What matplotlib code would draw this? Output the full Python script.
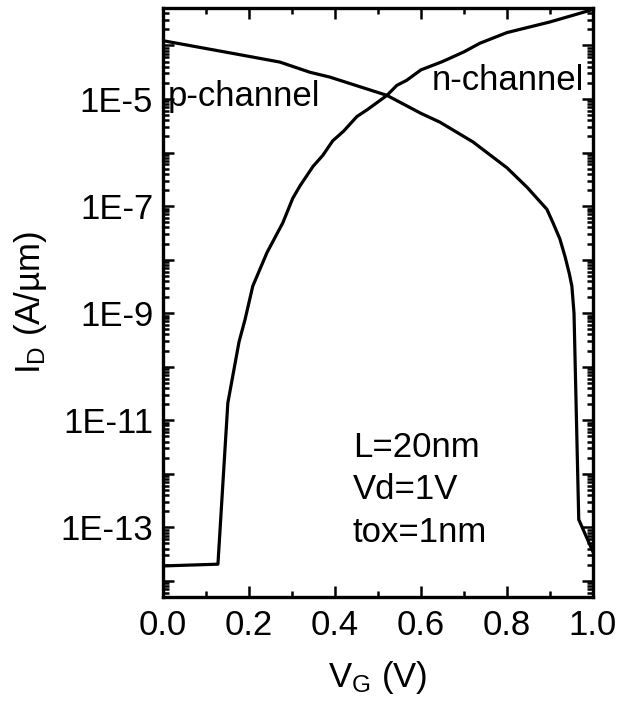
import numpy as np
import matplotlib
matplotlib.use("Agg")
import matplotlib.pyplot as plt
from matplotlib.ticker import FixedLocator, FuncFormatter, MultipleLocator, NullFormatter

plt.rcParams['font.family'] = ['Liberation Sans', 'DejaVu Sans']
plt.rcParams['mathtext.fontset'] = 'custom'
plt.rcParams['mathtext.rm'] = 'Liberation Sans'
plt.rcParams['mathtext.it'] = 'Liberation Sans:italic'

# courbe n-channel (Vg en V, Id en A/um)
vg_n = [0.000, 0.128, 0.151, 0.177, 0.191, 0.209, 0.242, 0.279, 0.302, 0.319,
        0.349, 0.372, 0.395, 0.420, 0.451, 0.475, 0.521, 0.544, 0.567, 0.600,
        0.650, 0.700, 0.737, 0.800, 0.900, 1.000]
id_n = [1.9e-14, 2.05e-14, 2.1e-11, 2.9e-10, 7.6e-10, 3.2e-9, 1.35e-8, 4.9e-8, 1.4e-7, 2.4e-7,
        5.5e-7, 8.9e-7, 1.66e-6, 2.5e-6, 4.7e-6, 6.3e-6, 1.17e-5, 1.8e-5, 2.24e-5, 3.5e-5,
        5.0e-5, 7.6e-5, 1.1e-4, 1.74e-4, 2.75e-4, 4.7e-4]

# courbe p-channel
vg_p = [0.000, 0.163, 0.272, 0.342, 0.388, 0.521, 0.600, 0.644, 0.721, 0.800,
        0.847, 0.893, 0.907, 0.923, 0.935, 0.945, 0.951, 0.956, 0.967, 1.000]
id_p = [1.23e-4, 7.1e-5, 4.9e-5, 3.16e-5, 2.57e-5, 1.17e-5, 5.4e-6, 3.7e-6, 1.58e-6, 5.2e-7,
        2.24e-7, 8.7e-8, 4.9e-8, 2.45e-8, 1.15e-8, 5.5e-9, 3.2e-9, 1.0e-9, 1.4e-13, 3.5e-14]

params = ["L=20nm", "Vd=1V", "tox=1nm"]

fig = plt.figure(figsize=(6.17, 7.07), dpi=100)
ax = fig.add_axes([0.264, 0.1556, 0.697, 0.833])

ax.plot(vg_n, id_n, color='black', linewidth=2.3)
ax.plot(vg_p, id_p, color='black', linewidth=2.3)

ax.set_yscale('log')
ax.set_xlim(0, 1.0)
ax.set_ylim(5e-15, 5e-4)

# graduations en x
ax.xaxis.set_major_locator(MultipleLocator(0.2))
ax.xaxis.set_minor_locator(MultipleLocator(0.1))
ax.xaxis.set_major_formatter(FuncFormatter(lambda v, p: "%.1f" % v))

# graduations en y : une par décade, étiquette une sur deux
decades = np.arange(-14, -3)
ax.yaxis.set_major_locator(FixedLocator(10.0 ** decades))
mineures = [m * 10.0 ** d for d in range(-15, -3) for m in range(2, 10)]
mineures = [v for v in mineures if 5e-15 <= v <= 5e-4]
ax.yaxis.set_minor_locator(FixedLocator(mineures))
ax.yaxis.set_minor_formatter(NullFormatter())

def etiquette(v, pos):
    e = int(round(np.log10(v)))
    if e % 2 == 0:
        return ""
    return "1E%d" % e
ax.yaxis.set_major_formatter(FuncFormatter(etiquette))

ax.tick_params(which='both', direction='in', top=True, right=True, labelsize=25, width=1.8)
ax.tick_params(which='major', length=8)
ax.tick_params(which='minor', length=4)
ax.tick_params(axis='y', pad=7)
ax.tick_params(axis='x', pad=9)
for s in ax.spines.values():
    s.set_linewidth(2.4)

ax.set_xlabel(r"V$_{\rm G}$ (V)", fontsize=25, labelpad=12)
ax.set_ylabel(r"I$_{\rm D}$ (A/µm)", fontsize=25, labelpad=8)

ax.text(0.012, 1.1e-5, "p-channel", fontsize=25, va='center', ha='left')
ax.text(0.626, 2.2e-5, "n-channel", fontsize=25, va='center', ha='left')
ax.text(0.442, 5e-13, "\n".join(params), fontsize=25, va='center', ha='left',
        linespacing=1.35)

fig.savefig("out.png", dpi=100)
